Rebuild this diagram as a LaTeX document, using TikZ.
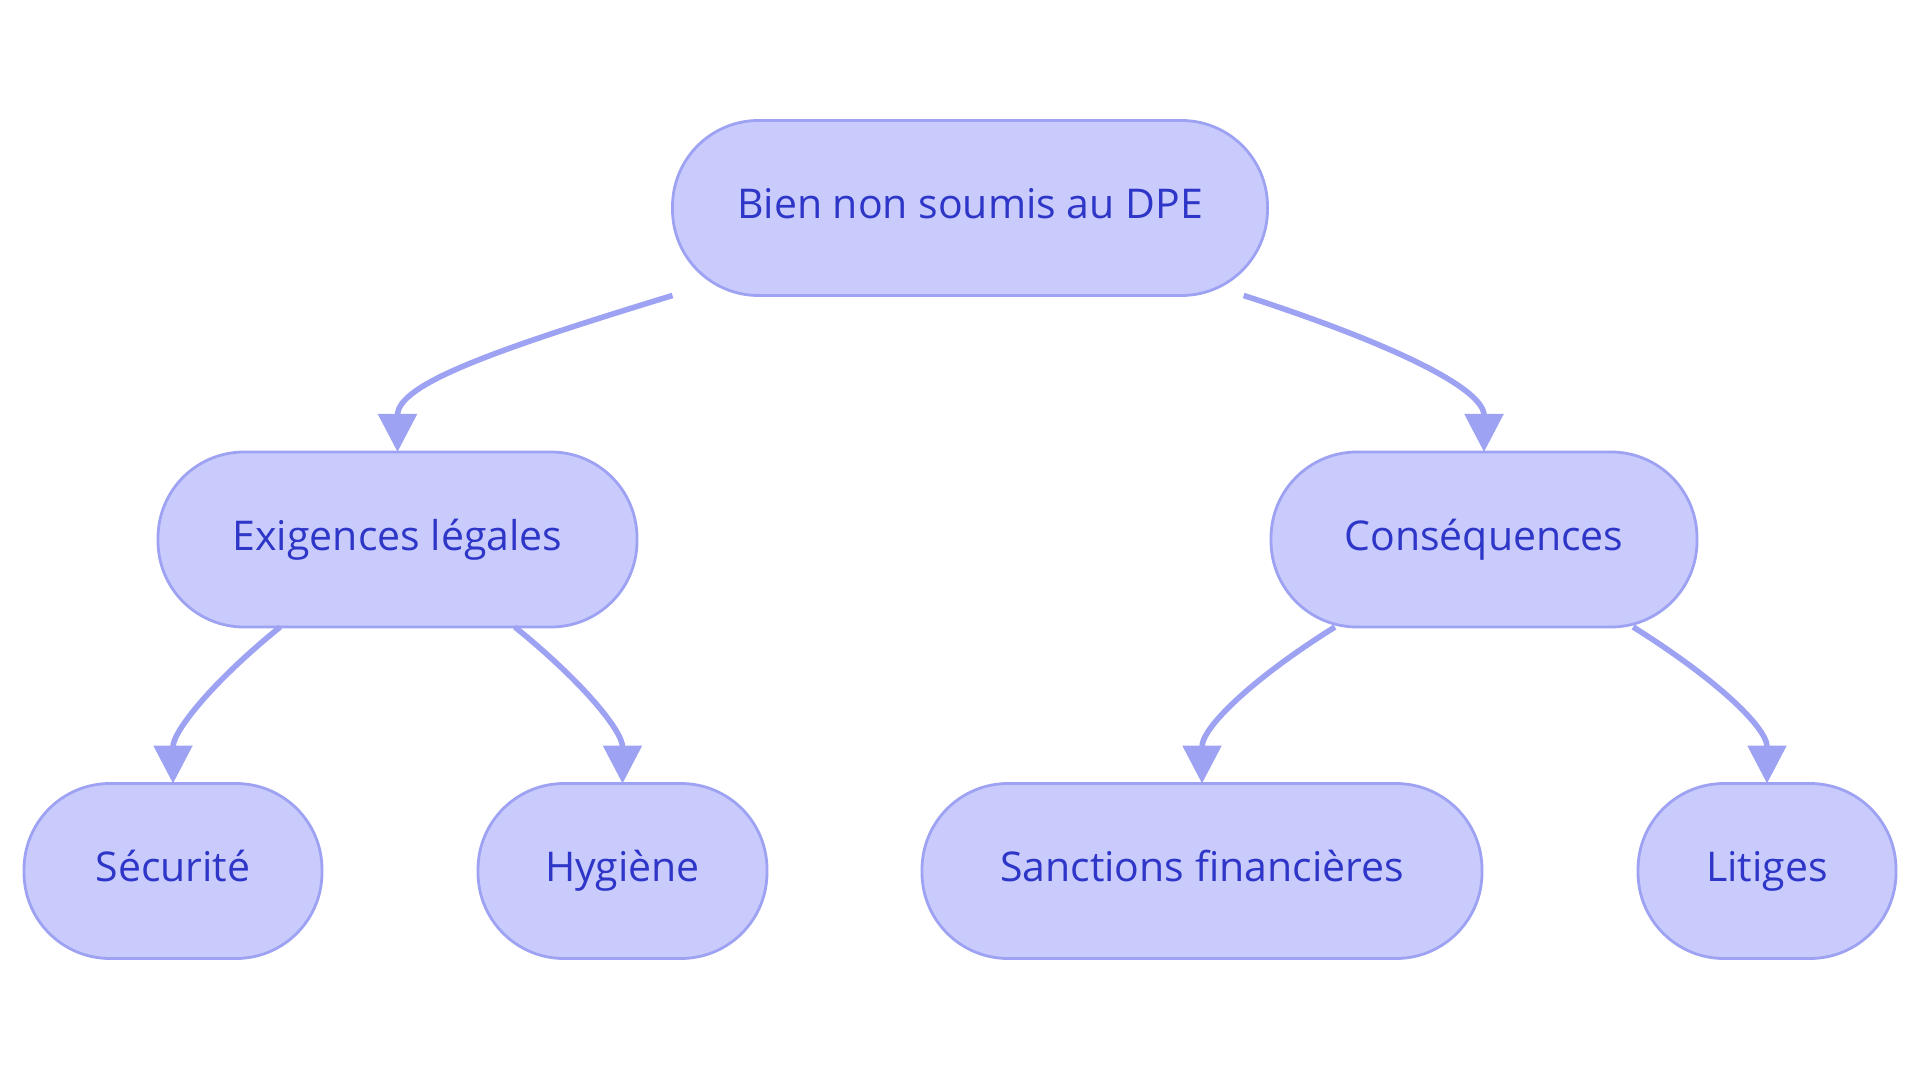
\documentclass[tikz,border=0pt]{standalone}
\usepackage{fontspec}
\setmainfont{Open Sans}
\usetikzlibrary{arrows.meta,calc}
\definecolor{boxfill}{HTML}{C9CBFC}
\definecolor{boxline}{HTML}{9EA2F2}
\definecolor{boxtext}{HTML}{2E36C8}
\begin{document}
\begin{tikzpicture}[x=0.5pt,y=0.5pt,
  box/.style={rectangle,rounded corners=43pt,fill=boxfill,draw=boxline,line width=1.4pt,
    minimum height=87.5pt,outer sep=0pt,text=boxtext,text height=15pt,text depth=4.5pt,
    font=\fontsize{20.5}{24}\selectfont},
  edge/.style={draw=boxline,line width=2.8pt,-{Triangle[width=19pt,length=19pt]}}]
\useasboundingbox (0,0) rectangle (1920,1083);
\node[box,minimum width=297.5pt] (root) at (970,875) {Bien non soumis au DPE};
\node[box,minimum width=239.5pt] (exig) at (397.5,543.5) {Exigences légales};
\node[box,minimum width=213pt] (cons) at (1484,543.5) {Conséquences};
\node[box,minimum width=149pt] (secu) at (173,212) {Sécurité};
\node[box,minimum width=144.5pt] (hyg) at (622.5,212) {Hygiène};
\node[box,minimum width=280pt] (sanc) at (1202,212) {Sanctions financières};
\node[box,minimum width=129pt] (lit) at (1767,212) {Litiges};
\draw[edge] (root.south west) to[out=197,in=90,out looseness=1.5,in looseness=0.55] (exig.north);
\draw[edge] ($(root.south west)!0.96!(root.south east)$) to[out=-18,in=90,out looseness=1.5,in looseness=0.55] (cons.north);
\draw[edge] ($(exig.south west)!0.255!(exig.south east)$) to[out=219,in=90,out looseness=1.2,in looseness=0.7] (secu.north);
\draw[edge] ($(exig.south west)!0.745!(exig.south east)$) to[out=-39,in=90,out looseness=1.2,in looseness=0.7] (hyg.north);
\draw[edge] ($(cons.south west)!0.15!(cons.south east)$) to[out=212,in=90,out looseness=1.2,in looseness=0.7] (sanc.north);
\draw[edge] ($(cons.south west)!0.85!(cons.south east)$) to[out=-32,in=90,out looseness=1.2,in looseness=0.7] (lit.north);
\end{tikzpicture}
\end{document}
